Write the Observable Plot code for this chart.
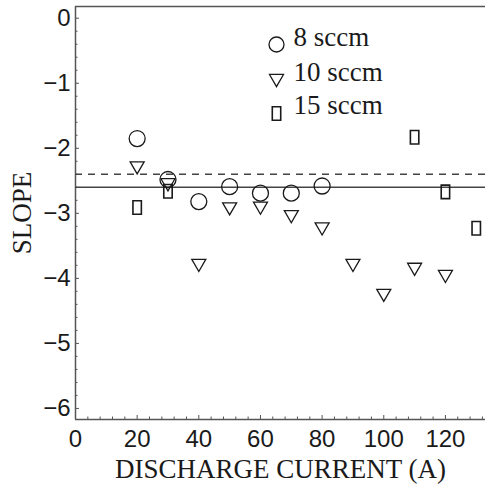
<!DOCTYPE html>
<html><head><meta charset="utf-8">
<script src="https://cdn.jsdelivr.net/npm/d3@7"></script>
<script src="https://cdn.jsdelivr.net/npm/@observablehq/plot@0.6"></script>
<style>body{margin:0;background:#fff}</style>
</head><body><div id="chart"></div>
<script>
// Data
const x8 = [20, 30, 40, 50, 60, 70, 80];
const slope8 = [-1.85, -2.48, -2.82, -2.59, -2.69, -2.69, -2.58];
const x10 = [20, 30, 40, 50, 60, 70, 80, 90, 100, 110, 120];
const slope10 = [-2.27, -2.53, -3.77, -2.90, -2.89, -3.02, -3.21, -3.77, -4.23, -3.83, -3.94];
const x15 = [20, 30, 110, 120, 130];
const slope15 = [-2.91, -2.66, -1.83, -2.67, -3.23];
const solidLevel = -2.6;
const dashedLevel = -2.4;
const legendLabels = ["8 sccm", "10 sccm", "15 sccm"];
const xLabel = "DISCHARGE CURRENT (A)";
const yLabel = "SLOPE";
const xTicks = [0, 20, 40, 60, 80, 100, 120];
const yTicks = [-6, -5, -4, -3, -2, -1, 0];
const xDomain = [0, 133];
const yDomain = [-6.17, 0.18];

const xMinor = d3.range(0, 133, 4).filter(v => v % 20 !== 0);
const yMinor = d3.range(-30, 1).map(v => v / 5).filter(v => !Number.isInteger(v));

const pts8 = x8.map((x, i) => ({x, y: slope8[i]}));
const pts10 = x10.map((x, i) => ({x, y: slope10[i]}));
const pts15 = x15.map((x, i) => ({x, y: slope15[i]}));

const triDown = {draw(ctx, size) {
  const s = Math.sqrt(size * 4 / Math.sqrt(3)), h = s * Math.sqrt(3) / 2;
  ctx.moveTo(-s / 2, -h / 3); ctx.lineTo(s / 2, -h / 3); ctx.lineTo(0, 2 * h / 3); ctx.closePath();
}};
const tallRect = {draw(ctx, size) {
  const w = Math.sqrt(size) * 0.95, h = w * 1.6;
  ctx.rect(-w / 2, -h / 2, w, h);
}};

const ink = "#1a1a1a";
const axisColor = "#555";
const sans = "Liberation Sans, Arial, sans-serif";
const serif = "Liberation Serif, Times New Roman, serif";
const fmt = d3.format("d");

const chart = Plot.plot({
  width: 485, height: 485,
  marginLeft: 75, marginRight: 0, marginTop: 6, marginBottom: 66,
  x: {domain: xDomain},
  y: {domain: yDomain},
  marks: [
    Plot.ruleX([xDomain[0]], {stroke: axisColor, strokeWidth: 1.5}),
    Plot.ruleY(yDomain, {stroke: axisColor, strokeWidth: 1.5}),
    Plot.axisX(xTicks, {anchor: "bottom", tickSize: -4, tickPadding: 14, tickFormat: fmt, stroke: axisColor, color: ink, fontSize: 24, fontFamily: sans, label: null}),
    Plot.axisX(xMinor, {anchor: "bottom", tickSize: -2.5, tickFormat: () => "", stroke: axisColor, label: null}),
    Plot.axisY(yTicks, {anchor: "left", tickSize: -4, tickPadding: 9, tickFormat: fmt, stroke: axisColor, color: ink, fontSize: 24, fontFamily: sans, label: null}),
    Plot.axisY(yMinor, {anchor: "left", tickSize: -2.5, tickFormat: () => "", stroke: axisColor, label: null}),
    Plot.ruleY([solidLevel], {stroke: "#444", strokeWidth: 1.5}),
    Plot.ruleY([dashedLevel], {stroke: "#444", strokeWidth: 1.5, strokeDasharray: "7,6"}),
    Plot.dot(pts8, {x: "x", y: "y", r: 8, stroke: ink, strokeWidth: 1.3, fill: "none"}),
    Plot.dot(pts10, {x: "x", y: "y", r: 5.2, symbol: triDown, stroke: ink, strokeWidth: 1.3, fill: "none"}),
    Plot.dot(pts15, {x: "x", y: "y", r: 5, symbol: tallRect, stroke: ink, strokeWidth: 1.6, fill: "none"}),
    // legend
    Plot.dot([legendLabels[0]], {frameAnchor: "top-left", dx: 201, dy: 38, r: 7.5, stroke: ink, strokeWidth: 1.3, fill: "none"}),
    Plot.dot([legendLabels[1]], {frameAnchor: "top-left", dx: 201, dy: 72, r: 5.2, symbol: triDown, stroke: ink, strokeWidth: 1.3, fill: "none"}),
    Plot.dot([legendLabels[2]], {frameAnchor: "top-left", dx: 201, dy: 107, r: 5, symbol: tallRect, stroke: ink, strokeWidth: 1.6, fill: "none"}),
    Plot.text([legendLabels[0]], {frameAnchor: "top-left", text: d => d, dx: 218, dy: 39, lineAnchor: "bottom", textAnchor: "start", fontSize: 27, fontFamily: serif, fill: ink}),
    Plot.text([legendLabels[1]], {frameAnchor: "top-left", text: d => d, dx: 218, dy: 74, lineAnchor: "bottom", textAnchor: "start", fontSize: 27, fontFamily: serif, fill: ink}),
    Plot.text([legendLabels[2]], {frameAnchor: "top-left", text: d => d, dx: 218, dy: 107, lineAnchor: "bottom", textAnchor: "start", fontSize: 27, fontFamily: serif, fill: ink}),
    // titles
    Plot.text([xLabel], {frameAnchor: "bottom", text: d => d, dy: 58, lineAnchor: "bottom", fontSize: 27, fontFamily: serif, fill: ink}),
    Plot.text([yLabel], {x: () => xDomain[0], y: () => (yDomain[0] + yDomain[1]) / 2, text: d => d, dx: -53, rotate: -90, lineAnchor: "middle", fontSize: 27, fontFamily: serif, fill: ink})
  ]
});
document.getElementById("chart").append(chart);
</script>
</body></html>
